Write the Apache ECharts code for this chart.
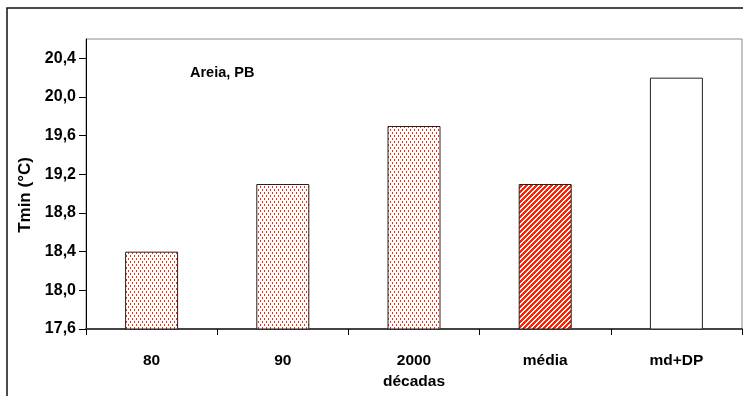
<!DOCTYPE html>
<html><head><meta charset="utf-8">
<script src="https://cdn.jsdelivr.net/npm/echarts@6/dist/echarts.min.js"></script>
<style>html,body{margin:0;padding:0;background:#fff}#c{width:743px;height:396px}</style>
</head><body><div id="c"></div>
<script>
const categories = ['80', '90', '2000', 'média', 'md+DP'];
const values = [18.4, 19.1, 19.7, 19.1, 20.2];
const yTicks = [17.6, 18.0, 18.4, 18.8, 19.2, 19.6, 20.0, 20.4];

function dotPattern() {
  const c = document.createElement('canvas'); c.width = 4; c.height = 6;
  const g = c.getContext('2d');
  g.fillStyle = '#fff'; g.fillRect(0, 0, 4, 6);
  g.fillStyle = '#ff2a08';
  g.fillRect(0, 0, 1, 2);
  g.fillRect(2, 3, 1, 2);
  return c;
}
function hatchPattern() {
  const c = document.createElement('canvas'); c.width = 5; c.height = 5;
  const g = c.getContext('2d');
  g.fillStyle = '#fff'; g.fillRect(0, 0, 5, 5);
  g.fillStyle = '#ff2000';
  for (let x = 0; x < 5; x++) for (let y = 0; y < 5; y++) if ((x + y) % 5 < 3) g.fillRect(x, y, 1, 1);
  return c;
}
const dots = { image: dotPattern(), repeat: 'repeat' };
const hatch = { image: hatchPattern(), repeat: 'repeat' };
const fills = [dots, dots, dots, hatch, '#ffffff'];

const font = '"Liberation Sans", Arial, sans-serif';
const chart = echarts.init(document.getElementById('c'), null, { renderer: 'canvas' });
chart.setOption({
  backgroundColor: '#fff',
  animation: false,
  title: { text: 'Areia, PB', left: 190, top: 65, padding: 0,
    textStyle: { fontFamily: font, fontSize: 14.5, fontWeight: 'bold', color: '#000' } },
  grid: { left: 86, top: 39, right: 1, bottom: 67, show: true, borderColor: '#8a8a8a', borderWidth: 1, backgroundColor: 'transparent' },
  graphic: [{ type: 'rect', shape: { x: 7, y: 8, width: 800, height: 500 }, style: { fill: null, stroke: '#111', lineWidth: 1.5 }, silent: true }],
  xAxis: {
    type: 'category', data: categories,
    name: 'décadas', nameLocation: 'middle', nameGap: 45,
    nameTextStyle: { fontFamily: font, fontSize: 15.5, fontWeight: 'bold', color: '#000' },
    axisLine: { lineStyle: { color: '#444', width: 2 } },
    axisTick: { show: true, length: 6, lineStyle: { color: '#000', width: 1 } },
    axisLabel: { margin: 24, fontFamily: font, fontSize: 15.5, fontWeight: 'bold', color: '#000' },
    splitLine: { show: false }
  },
  yAxis: {
    type: 'value', min: 17.6, max: 20.6,
    name: 'Tmin (°C)', nameLocation: 'middle', nameGap: 49, nameRotate: 90,
    nameTextStyle: { fontFamily: font, fontSize: 17, fontWeight: 'bold', color: '#000', padding: [0, 0, 0, -22] },
    axisLine: { show: true, lineStyle: { color: '#000', width: 1 } },
    axisTick: { show: true, length: 7, customValues: yTicks, lineStyle: { color: '#000' } },
    axisLabel: { margin: 10, customValues: yTicks, fontFamily: font, fontSize: 16, fontWeight: 'bold', color: '#000',
      formatter: v => v.toFixed(1).replace('.', ',') },
    splitLine: { show: false }
  },
  series: [{
    type: 'bar', barWidth: 53,
    data: values.map((v, i) => ({ value: v, itemStyle: { color: fills[i] } })),
    itemStyle: { borderColor: '#222', borderWidth: 1 }
  }]
});
</script></body></html>
